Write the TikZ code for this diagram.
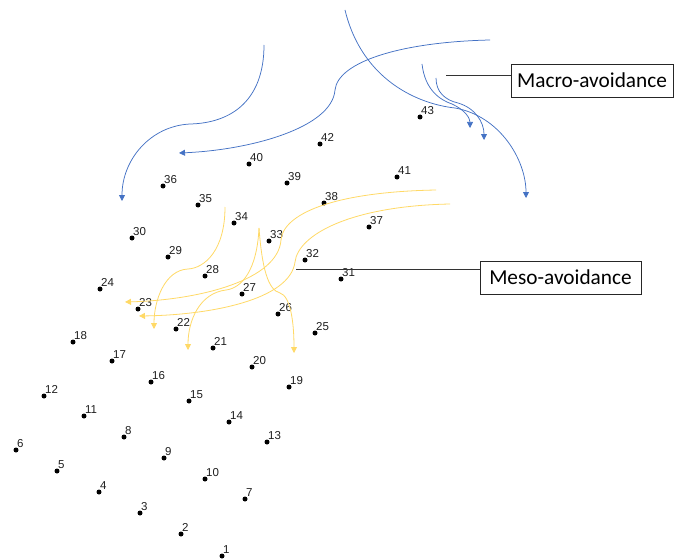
\documentclass[tikz,border=0pt]{standalone}
\usepackage{fontspec}
\setmainfont{Carlito}
\newfontfamily\numfont{Liberation Sans}
\usetikzlibrary{arrows.meta}
\definecolor{macroblue}{RGB}{68,114,196}
\definecolor{mesogold}{RGB}{255,217,102}
\definecolor{labelgray}{RGB}{30,30,30}
\begin{document}
\begin{tikzpicture}[x=1pt,y=-1pt,
  dot/.style={circle,fill=black,inner sep=0pt,minimum size=5pt},
  num/.style={font=\numfont\fontsize{11.5}{11.5}\selectfont,text=labelgray,inner sep=0pt,anchor=base west},
  macro/.style={draw=macroblue,line width=0.75pt,-{Triangle[width=6pt,length=6pt]}},
  meso/.style={draw=mesogold,line width=0.8pt,-{Triangle[width=6pt,length=6pt]}},
  labelbox/.style={draw=black!85,line width=0.9pt,font=\fontsize{21.3}{24}\selectfont,inner sep=0pt,minimum height=33pt},
  lead/.style={draw=black!80,line width=0.9pt}]
\useasboundingbox (0,0) rectangle (674,559);
% points
\foreach \n/\x/\y in {1/222/556,2/181/534,3/140/513,4/99/492,5/57/471,6/16/450,
  7/245/499,8/124/437,9/164/458,10/205/479,11/84/416,12/44/396,13/267/442,
  14/229/422,15/189/401,16/151/382,17/112/361,18/73/342,19/289/387,20/252/367,
  21/213/348,22/176/329,23/138/309,24/100/289,25/315/333,26/278/314,27/242/294,
  28/205/276,29/168/257,30/132/238,31/341/279,32/305/260,33/269/241,34/234/223,
  35/198/205,36/163/186,37/369/227,38/324/203,39/287/183,40/249/164,41/397/177,
  42/320/144,43/420/117}{
  \node[dot] (d\n) at (\x,\y) {};
  \node[num] (l\n) at (\x+1,\y-2.2) {\n};
}
% macro-avoidance (blue)
\draw[macro] (264,45) .. controls (264,100) and (232,123) .. (190,124)
  .. controls (150,126) and (122,160) .. (122,201);
\draw[macro] (490,40) .. controls (400,42) and (338,62) .. (335,90)
  .. controls (332,128) and (250,150) .. (179,153);
\draw[macro] (345,10) .. controls (362,80) and (418,104) .. (455,108)
  .. controls (500,116) and (526,160) .. (526,198);
\draw[macro] (422,64) .. controls (425,90) and (440,100) .. (452,104)
  .. controls (465,110) and (470,118) .. (470,128);
\draw[macro] (436,78) .. controls (436,92) and (445,100) .. (458,103)
  .. controls (475,108) and (484,122) .. (484,140);
% meso-avoidance (gold)
\draw[meso] (436,190) .. controls (330,192) and (283,215) .. (281,240)
  .. controls (278,280) and (200,300) .. (125,302);
\draw[meso] (450,204) .. controls (350,206) and (298,235) .. (295,262)
  .. controls (290,300) and (210,315) .. (139,316);
\draw[meso] (225,207) .. controls (225,250) and (205,268) .. (188,269)
  .. controls (165,270) and (154,300) .. (154,329);
\draw[meso] (259,228) .. controls (257,270) and (242,288) .. (226,290)
  .. controls (200,293) and (188,320) .. (188,350);
\draw[meso] (259,228) .. controls (262,268) and (268,290) .. (280,293)
  .. controls (290,296) and (294,320) .. (294,353);
% label boxes
\node[labelbox,minimum width=162pt] (macrobox) at (592,80.5) {Macro-avoidance};
\node[labelbox,minimum width=161pt] (mesobox) at (560.5,277.5) {Meso-avoidance};
\coordinate (macroend) at (446,75);
\coordinate (mesoend) at (296,269);
\draw[lead] (macroend) -- (macroend -| macrobox.west);
\draw[lead] (mesoend) -- (mesoend -| mesobox.west);
\end{tikzpicture}
\end{document}
